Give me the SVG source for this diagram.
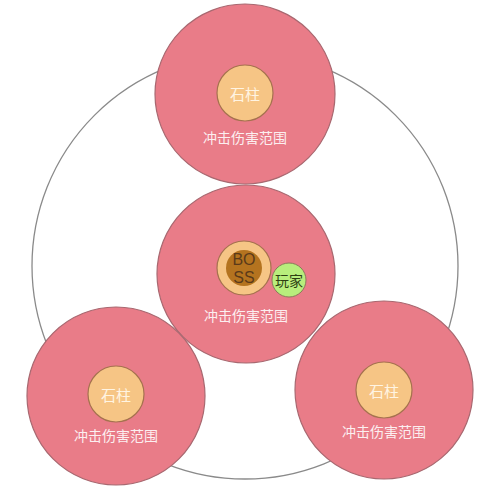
<svg xmlns="http://www.w3.org/2000/svg" width="500" height="489" viewBox="0 0 500 489">
<style>
.range{fill:#E97C88;stroke:#A86870;stroke-width:1.2}
.stone{fill:#F6C585;stroke:#A5724E;stroke-width:1.2}
.lbl{font-family:"Noto Sans CJK SC","Noto Sans",sans-serif;font-size:14px;fill:#FCEFF0;text-anchor:middle;dominant-baseline:central}
.slbl{font-family:"Noto Sans CJK SC",sans-serif;font-size:15px;fill:#FFF4E2;text-anchor:middle;dominant-baseline:central}
.boss{font-family:"Liberation Sans",Arial,sans-serif;font-size:16px;fill:#5A3A1A;text-anchor:middle;dominant-baseline:central}
</style>
<rect width="500" height="489" fill="#FFFFFF"/>
<g id="arena">
<circle cx="245" cy="266" r="213" fill="none" stroke="#8A8A8A" stroke-width="1.3"/>
</g>
<g id="connectors"></g>
<g id="top-pillar">
<circle class="range" cx="245" cy="94" r="90"/>
<circle class="stone" cx="245" cy="93" r="28"/>
<text class="slbl" x="245" y="93">石柱</text>
<text class="lbl" x="245" y="137">冲击伤害范围</text>
</g>
<g id="center-boss">
<circle class="range" cx="246" cy="274" r="89"/>
<circle class="stone" cx="244" cy="268" r="27"/>
<circle cx="244" cy="268" r="18" fill="#B4731F"/>
<text class="boss" x="244" y="259">BO</text>
<text class="boss" x="244" y="277">SS</text>
<circle cx="289" cy="280" r="17" fill="#B8EE7C" stroke="#8A7B5A" stroke-width="1"/>
<text x="289" y="280" font-family="Noto Sans CJK SC,sans-serif" font-size="14" fill="#2E3F12" text-anchor="middle" dominant-baseline="central">玩家</text>
<text class="lbl" x="246" y="315">冲击伤害范围</text>
</g>
<g id="left-pillar">
<circle class="range" cx="116" cy="396" r="89"/>
<circle class="stone" cx="116" cy="394" r="28"/>
<text class="slbl" x="116" y="394">石柱</text>
<text class="lbl" x="116" y="435">冲击伤害范围</text>
</g>
<g id="right-pillar">
<circle class="range" cx="384" cy="390" r="89"/>
<circle class="stone" cx="384" cy="390" r="28"/>
<text class="slbl" x="384" y="390">石柱</text>
<text class="lbl" x="384" y="431">冲击伤害范围</text>
</g>
</svg>
